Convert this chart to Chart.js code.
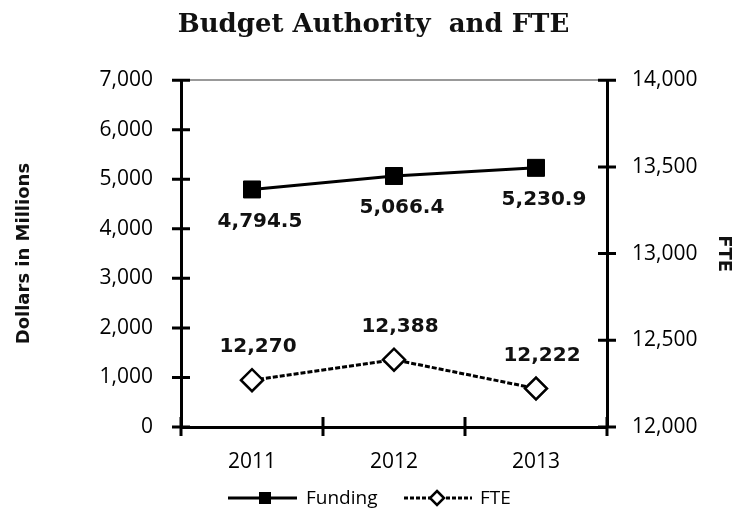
<!DOCTYPE html>
<html>
<head>
<meta charset="utf-8">
<script src="https://cdn.jsdelivr.net/npm/chart.js@4"></script>
<style>
  html, body { margin: 0; padding: 0; background: #fff; }
  #wrap { width: 747px; height: 510px; }
</style>
</head>
<body>
<div id="wrap"><canvas id="chart" width="747" height="510"></canvas></div>
<script>
// data
var categories = ["2011", "2012", "2013"];
var fundingValues = [4794.5, 5066.4, 5230.9];
var fteValues = [12270, 12388, 12222];
var fundingLabels = ["4,794.5", "5,066.4", "5,230.9"];
var fteLabels = ["12,270", "12,388", "12,222"];
var leftTicks = [0, 1000, 2000, 3000, 4000, 5000, 6000, 7000];
var rightTicks = [12000, 12500, 13000, 13500, 14000];

var tickFont = { family: "Open Sans", size: 21 };
var labelFont = "bold 20px 'DejaVu Sans'";

// tick marks that cross the axis line, like the original
const crossTicks = {
    id: "crossTicks",
    afterDraw(chart) {
        var ctx = chart.ctx;
        var area = chart.chartArea;
        ctx.save();
        ctx.strokeStyle = "#000";
        ctx.lineWidth = 3;
        ctx.beginPath();
        chart.scales.y.ticks.forEach(t => {
            var py = chart.scales.y.getPixelForValue(t.value);
            ctx.moveTo(area.left - 9, py);
            ctx.lineTo(area.left + 9, py);
        });
        chart.scales.y1.ticks.forEach(t => {
            var py = chart.scales.y1.getPixelForValue(t.value);
            ctx.moveTo(area.right - 9, py);
            ctx.lineTo(area.right + 9, py);
        });
        var n = categories.length;
        for (let i = 0; i <= n; i++) {
            var px = area.left + i * (area.right - area.left) / n;
            ctx.moveTo(px, area.bottom - 10);
            ctx.lineTo(px, area.bottom + 9);
        }
        ctx.stroke();
        ctx.restore();
    }
};

// value labels next to each point
const valueLabels = {
    id: "valueLabels",
    afterDatasetsDraw(chart) {
        var ctx = chart.ctx;
        ctx.save();
        ctx.font = labelFont;
        ctx.fillStyle = "#111";
        ctx.textAlign = "center";
        ctx.textBaseline = "middle";
        chart.getDatasetMeta(0).data.forEach((pt, i) => {
            ctx.fillText(fundingLabels[i], pt.x + 8, pt.y + 32);
        });
        chart.getDatasetMeta(1).data.forEach((pt, i) => {
            ctx.fillText(fteLabels[i], pt.x + 6, pt.y - 33);
        });
        ctx.restore();
    }
};

// bottom legend with line + marker samples
const lineLegend = {
    id: "lineLegend",
    afterDraw(chart) {
        var ctx = chart.ctx;
        var y = 498;
        ctx.save();
        ctx.strokeStyle = "#000";
        ctx.lineWidth = 3;
        ctx.beginPath();
        ctx.moveTo(228, y);
        ctx.lineTo(297, y);
        ctx.stroke();
        ctx.fillStyle = "#000";
        ctx.fillRect(259, y - 6, 12, 12);

        ctx.setLineDash([4, 2]);
        ctx.beginPath();
        ctx.moveTo(404, y);
        ctx.lineTo(472, y);
        ctx.stroke();
        ctx.setLineDash([]);
        ctx.fillStyle = "#fff";
        ctx.lineWidth = 2.5;
        ctx.beginPath();
        ctx.moveTo(437, y - 7);
        ctx.lineTo(444, y);
        ctx.lineTo(437, y + 7);
        ctx.lineTo(430, y);
        ctx.closePath();
        ctx.fill();
        ctx.stroke();

        ctx.fillStyle = "#000";
        ctx.font = "19px 'Open Sans'";
        ctx.textBaseline = "middle";
        ctx.textAlign = "left";
        ctx.fillText(chart.data.datasets[0].label, 306, y + 1);
        ctx.fillText(chart.data.datasets[1].label, 480, y + 1);
        ctx.restore();
    }
};

var ctx = document.getElementById("chart");
new Chart(ctx, {
    type: "line",
    data: {
        labels: categories,
        datasets: [{
            label: "Funding",
            data: fundingValues,
            yAxisID: "y",
            borderColor: "#000",
            borderWidth: 3,
            pointStyle: "rect",
            pointRadius: 12,
            pointBackgroundColor: "#000",
            pointBorderColor: "#000",
            pointBorderWidth: 1
        }, {
            label: "FTE",
            data: fteValues,
            yAxisID: "y1",
            borderColor: "#000",
            borderWidth: 3,
            borderDash: [5, 2],
            pointStyle: "rectRot",
            pointRadius: 11,
            pointBackgroundColor: "#fff",
            pointBorderColor: "#000",
            pointBorderWidth: 2.5
        }]
    },
    options: {
        responsive: false,
        animation: false,
        layout: { padding: 0 },
        plugins: {
            legend: { display: false },
            tooltip: { enabled: false },
            title: {
                display: true,
                text: "Budget Authority  and FTE",
                color: "#111",
                font: { family: "DejaVu Serif", size: 26, weight: "bold" },
                padding: { top: 10, bottom: 39 }
            }
        },
        scales: {
            x: {
                offset: true,
                afterFit: function (scale) { scale.height = 83; },
                grid: { display: true, drawOnChartArea: false, drawTicks: false, offset: true },
                border: { display: true, color: "#000", width: 3 },
                ticks: { color: "#000", font: tickFont, padding: 22 }
            },
            y: {
                position: "left",
                min: 0,
                max: 7000,
                afterFit: function (scale) { scale.width = 181; },
                afterBuildTicks: function (scale) { scale.ticks = leftTicks.map(v => ({ value: v })); },
                grid: {
                    drawTicks: false,
                    lineWidth: 2,
                    color: function (c) { return c.tick && c.tick.value === 7000 ? "#999" : "rgba(0,0,0,0)"; }
                },
                border: { display: true, color: "#000", width: 3 },
                ticks: {
                    color: "#000",
                    font: tickFont,
                    padding: 28,
                    callback: function (v) { return v.toLocaleString("en-US"); }
                },
                title: {
                    display: true,
                    text: "Dollars in Millions",
                    color: "#111",
                    font: { family: "DejaVu Sans", size: 18, weight: "bold" },
                    padding: { top: 14, bottom: 0 }
                }
            },
            y1: {
                position: "right",
                min: 12000,
                max: 14000,
                afterFit: function (scale) { scale.width = 140; },
                afterBuildTicks: function (scale) { scale.ticks = rightTicks.map(v => ({ value: v })); },
                grid: { drawOnChartArea: false, drawTicks: false },
                border: { display: true, color: "#000", width: 3 },
                ticks: {
                    color: "#000",
                    font: tickFont,
                    padding: 25,
                    callback: function (v) { return v.toLocaleString("en-US"); }
                },
                title: {
                    display: true,
                    text: "FTE",
                    color: "#111",
                    font: { family: "DejaVu Sans", size: 18, weight: "bold" },
                    padding: { top: 13, bottom: 0 }
                }
            }
        }
    },
    plugins: [crossTicks, valueLabels, lineLegend]
});
</script>
</body>
</html>
